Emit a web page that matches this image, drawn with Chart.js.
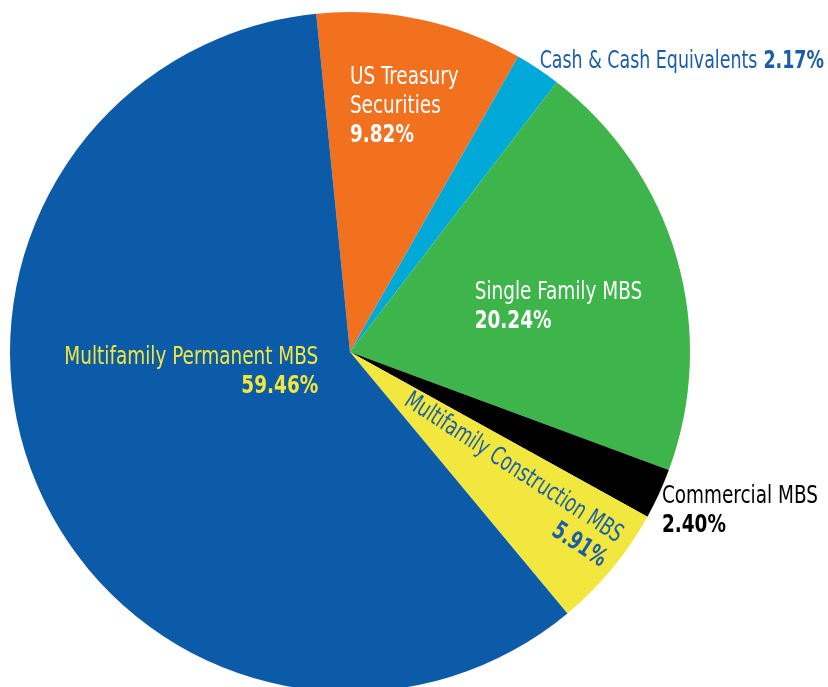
<!DOCTYPE html>
<html>
<head>
<meta charset="utf-8">
<script src="https://cdn.jsdelivr.net/npm/chart.js@4.4.1/dist/chart.umd.min.js"></script>
<style>
  html, body { margin: 0; padding: 0; background: #fff; overflow: hidden; }
  #wrap { position: absolute; left: 0; top: 0; width: 828px; height: 692px; }
</style>
</head>
<body>
<div id="wrap"><canvas id="myChart"></canvas></div>
<script>
// categories (multi-line where the label wraps) and their shares in %
const categories = [
    ['US Treasury', 'Securities'],
    ['Cash & Cash Equivalents'],
    ['Single Family MBS'],
    ['Commercial MBS'],
    ['Multifamily Construction MBS'],
    ['Multifamily Permanent MBS']
];
const shares = [9.82, 2.17, 20.24, 2.40, 5.91, 59.46];
const sliceColors = ['#f2711f', '#00a9d7', '#3db54a', '#000000', '#f2e73e', '#0b5ba8'];

// where each label sits: distance along the slice middle (x radius), angle tweak,
// alignment, text colour, rotation, percent inline or on its own line
const labelLayout = [
    { dist: 0.722, turn: -12, align: 'left', color: '#ffffff' },
    { dist: 1.02, turn: -0.4, align: 'left', color: '#1a5ea8', inline: true, squeeze: 0.775 },
    { dist: 0.39, turn: -3.8, align: 'left', color: '#ffffff' },
    { dist: 1.03, turn: 2.4, align: 'left', color: '#000000' },
    { dist: 0.965, turn: -2.6, align: 'right', color: '#1a5ea8', rotate: 33, squeeze: 0.77 },
    { dist: 0.11, turn: -9, align: 'right', color: '#f2e73e' }
];

const FONT = '"Liberation Sans Narrow", "Arial Narrow", "DejaVu Sans Condensed", "Roboto Condensed", sans-serif';
const FONT_SIZE = 25;
const X_SQUEEZE = 0.82;   // the original uses a very condensed face
const LINE_H = 29;

const font = (bold) => (bold ? 'bold ' : '') + FONT_SIZE + 'px ' + FONT;

const sliceLabels = {
    id: 'sliceLabels',
    afterDatasetsDraw(chart) {
        const ctx = chart.ctx;
        const arcs = chart.getDatasetMeta(0).data;
        arcs.forEach(function (arc, i) {
            const p = arc.getProps(['x', 'y', 'startAngle', 'endAngle', 'outerRadius'], true);
            const lay = labelLayout[i];
            const ang = (p.startAngle + p.endAngle) / 2 + lay.turn * Math.PI / 180;
            const ax = p.x + Math.cos(ang) * p.outerRadius * lay.dist;
            const ay = p.y + Math.sin(ang) * p.outerRadius * lay.dist;
            const pct = shares[i].toFixed(2) + '%';

            // each line is a list of [text, bold] parts
            let lines = categories[i].map(t => [[t, false]]);
            if (lay.inline) {
                lines[lines.length - 1].push([' ' + pct, true]);
            } else {
                lines.push([[pct, true]]);
            }

            ctx.save();
            ctx.translate(ax, ay);
            if (lay.rotate) ctx.rotate(lay.rotate * Math.PI / 180);
            ctx.scale(lay.squeeze || X_SQUEEZE, 1);
            ctx.fillStyle = lay.color;
            ctx.textBaseline = 'middle';
            ctx.textAlign = 'left';
            const top = -(lines.length - 1) * LINE_H / 2;
            lines.forEach(function (parts, li) {
                let w = 0;
                parts.forEach(function (pt) { ctx.font = font(pt[1]); w += ctx.measureText(pt[0]).width; });
                let x = lay.align === 'right' ? -w : (lay.align === 'center' ? -w / 2 : 0);
                parts.forEach(function (pt) {
                    ctx.font = font(pt[1]);
                    ctx.fillText(pt[0], x, top + li * LINE_H);
                    x += ctx.measureText(pt[0]).width;
                });
            });
            ctx.restore();
        });
    }
};

new Chart(document.getElementById('myChart'), {
    type: 'pie',
    data: {
        labels: categories,
        datasets: [{
            data: shares,
            backgroundColor: sliceColors,
            borderWidth: 0
        }]
    },
    options: {
        responsive: true,
        maintainAspectRatio: false,
        animation: false,
        rotation: -5.7,
        layout: { padding: { left: 10, right: 138, top: 12, bottom: 0 } },
        plugins: {
            legend: { display: false },
            tooltip: { enabled: false }
        }
    },
    plugins: [sliceLabels]
});
</script>
</body>
</html>
